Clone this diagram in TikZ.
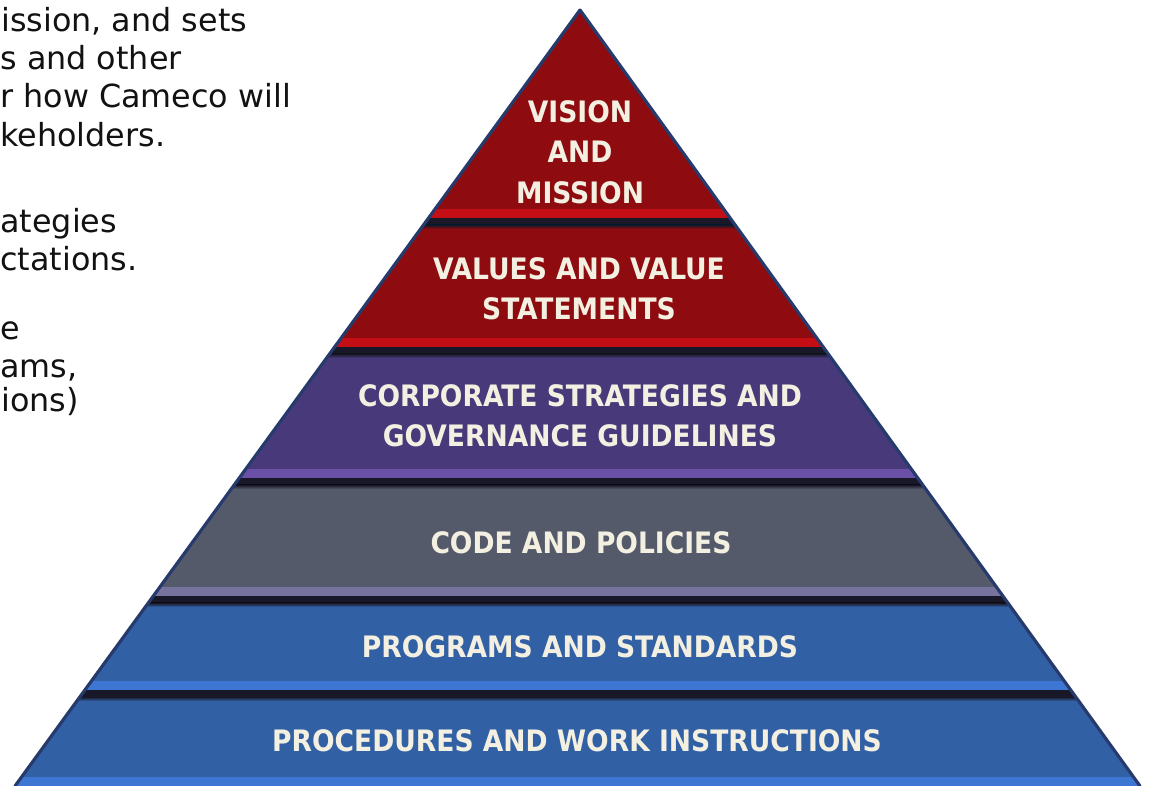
\documentclass[tikz,border=0pt]{standalone}
\usepackage{fontspec}
\setmainfont{DejaVu Sans}
\IfFontExistsTF{DejaVu Sans Condensed Bold}
  {\newfontfamily\tierfont{DejaVu Sans Condensed Bold}}
  {\newfontfamily\tierfont{DejaVu Sans}[FakeStretch=0.88,UprightFont={* Bold}]}

\definecolor{redmain}{RGB}{142,11,16}
\definecolor{redlite}{RGB}{196,14,22}
\definecolor{purmain}{RGB}{72,58,122}
\definecolor{purlite}{RGB}{106,80,166}
\definecolor{graymain}{RGB}{84,90,106}
\definecolor{graylite}{RGB}{118,116,158}
\definecolor{bluemain}{RGB}{50,96,165}
\definecolor{bluelite}{RGB}{62,118,212}
\definecolor{shadowc}{RGB}{24,24,40}
\definecolor{rimc}{RGB}{38,58,108}
\definecolor{tiertext}{RGB}{243,240,226}
\definecolor{notetext}{RGB}{18,18,18}

\tikzset{
  tier/.style={font=\tierfont\fontsize{16.8}{23}\selectfont, text=tiertext,
    align=center, inner sep=0pt},
  note/.style={font=\fontsize{18.1}{21.6}\selectfont, text=notetext,
    anchor=base west, inner sep=0pt},
  rim/.style={draw=rimc, line width=1.8pt, line cap=round}
}

\begin{document}
\begin{tikzpicture}[x=0.02cm,y=-0.02cm]

\clip (0,0) rectangle (1149,786);
\fill[white] (0,0) rectangle (1149,786);

\coordinate (apex) at (580,10);
\coordinate (baseL) at (15,786);
\coordinate (baseR) at (1140,786);

% text on the left, cut off by the slide edge
\node[note] (t1) at (1,32) {ission, and sets};
\node[note] (t2) at (0,70) {s and other};
\node[note] (t3) at (0,108) {r how Cameco will};
\node[note] (t4) at (0,147) {keholders.};
\node[note] (t5) at (0,233) {ategies};
\node[note] (t6) at (0,271) {ctations.};
\node[note] (t7) at (0,340) {e};
\node[note] (t8) at (0,378) {ams,};
\node[note] (t9) at (1,412) {ions)};

% pyramid layers
\begin{scope}
\clip (apex) -- (baseR) -- (baseL) -- cycle;
\foreach \ytop/\ybot/\main/\lite in {0/218/redmain/redlite, 228/347/redmain/redlite,
    357/478/purmain/purlite, 489/596/graymain/graylite,
    604/690/bluemain/bluelite, 699/786/bluemain/bluelite}{
  \fill[\main] (0,\ytop) rectangle (1149,\ybot);
  \fill[\lite] (0,\ybot-9) rectangle (1149,\ybot);
}
\foreach \ybot/\main in {218/redmain, 347/purmain, 478/graymain, 596/bluemain, 690/bluemain}{
  \fill[shadowc] (0,\ybot) rectangle (1149,\ybot+7);
  \shade[top color=shadowc, bottom color=\main] (0,\ybot+7) rectangle (1149,\ybot+11);
}
\end{scope}

\draw[rim] (apex) -- (baseL);
\draw[rim] (apex) -- (baseR);

\node[tier] (vision) at (580,152) {VISION\\AND\\MISSION};
\node[tier] (values) at (579,289) {VALUES AND VALUE\\STATEMENTS};
\node[tier] (strategy) at (580,416) {CORPORATE STRATEGIES AND\\GOVERNANCE GUIDELINES};
\node[tier] (code) at (581,543) {CODE AND POLICIES};
\node[tier] (programs) at (580,647) {PROGRAMS AND STANDARDS};
\node[tier] (procedures) at (577,741) {PROCEDURES AND WORK INSTRUCTIONS};

\end{tikzpicture}
\end{document}
